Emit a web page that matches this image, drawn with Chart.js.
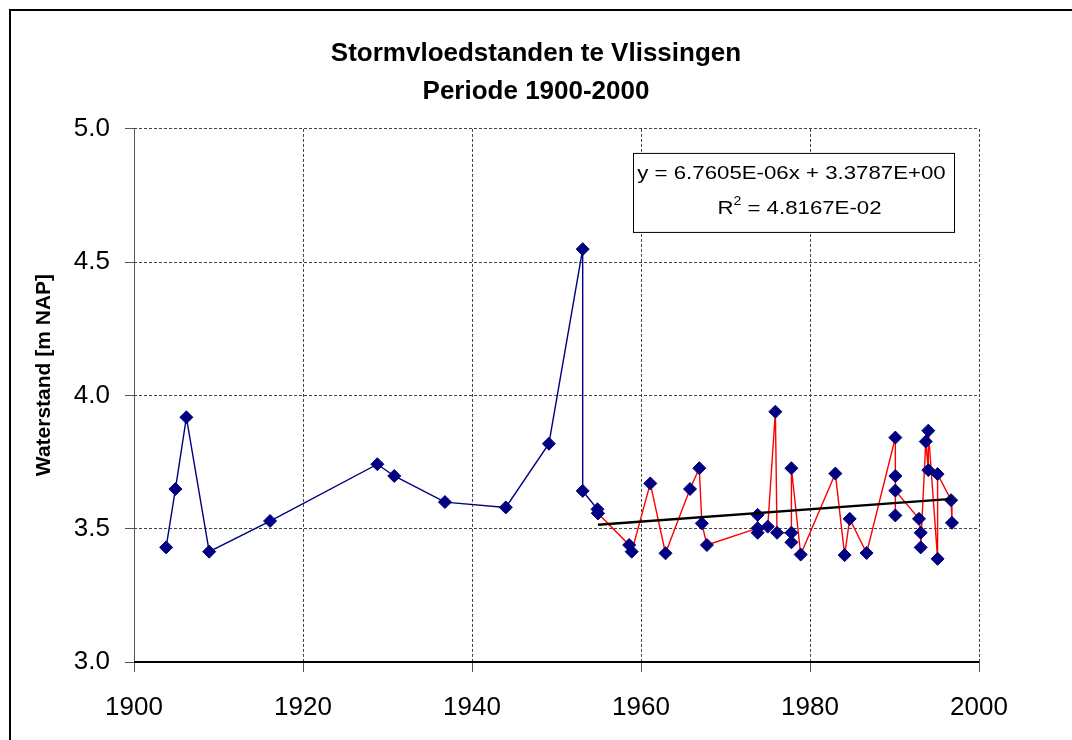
<!DOCTYPE html>
<html><head><meta charset="utf-8">
<script src="https://cdn.jsdelivr.net/npm/chart.js@4/dist/chart.umd.min.js"></script>
<style>html,body{margin:0;padding:0;background:#fff;}#wrap{width:1072px;height:740px;}</style>
</head><body><div id="wrap"><canvas id="c" width="1072" height="740"></canvas></div>
<script>
const titleLines = ['Stormvloedstanden te Vlissingen', 'Periode 1900-2000'];
const yAxisTitle = 'Waterstand [m NAP]';
const xTickStep = 20, xMin = 1900, xMax = 2000;
const yTickStep = 0.5, yMin = 3.0, yMax = 5.0;

const blueYears  = [1903.8, 1904.9, 1906.2, 1908.9, 1916.1, 1928.8, 1930.8, 1936.8, 1944.0, 1949.1, 1953.1, 1953.1, 1954.85, 1954.9];
const blueValues = [3.430, 3.649, 3.918, 3.414, 3.529, 3.742, 3.698, 3.600, 3.580, 3.819, 4.549, 3.642, 3.573, 3.558];

const redYears  = [1954.9, 1958.6, 1958.9, 1961.1, 1962.9, 1965.8, 1966.9, 1967.2, 1967.8, 1973.8, 1973.8, 1973.8, 1975.0, 1975.9, 1976.1, 1977.8, 1977.8, 1977.8, 1978.9, 1983.0, 1984.1, 1984.7, 1986.7, 1990.1, 1990.1, 1990.1, 1990.1, 1992.9, 1993.1, 1993.1, 1993.7, 1994.0, 1994.0, 1995.1, 1995.1, 1996.7, 1996.8];
const redValues = [3.558, 3.439, 3.414, 3.670, 3.408, 3.649, 3.727, 3.520, 3.439, 3.502, 3.552, 3.485, 3.508, 3.939, 3.485, 3.485, 3.449, 3.727, 3.403, 3.707, 3.401, 3.537, 3.409, 3.842, 3.698, 3.550, 3.643, 3.537, 3.485, 3.430, 3.827, 3.720, 3.868, 3.387, 3.705, 3.607, 3.522];

const trendYears  = [1954.9, 1996.8];
const trendValues = [3.515, 3.612];

const equationLine1 = 'y = 6.7605E-06x + 3.3787E+00';
const equationR = 'R';
const equationSup = '2';
const equationLine2 = ' = 4.8167E-02';

const FONT = "'Liberation Sans', Arial, sans-serif";
const pts = (xs, ys) => xs.map((x, i) => ({x: x, y: ys[i]}));

const framePlugin = {
  id: 'frame',
  beforeDraw(chart) {
    const ctx = chart.ctx;
    ctx.save();
    ctx.fillStyle = '#fff';
    ctx.fillRect(0, 0, chart.width, chart.height);
    ctx.strokeStyle = '#000';
    ctx.lineWidth = 2;
    ctx.beginPath();
    ctx.moveTo(10, chart.height + 5);
    ctx.lineTo(10, 10);
    ctx.lineTo(chart.width + 5, 10);
    ctx.stroke();
    ctx.restore();
  },
  beforeDatasetsDraw(chart) {
    const ctx = chart.ctx;
    const a = chart.chartArea;
    ctx.save();
    ctx.setLineDash([]);
    ctx.strokeStyle = '#555';
    ctx.lineWidth = 1;
    ctx.beginPath();
    ctx.moveTo(Math.round(a.left) + 0.5, a.top);
    ctx.lineTo(Math.round(a.left) + 0.5, a.bottom);
    ctx.stroke();
    ctx.strokeStyle = '#000';
    ctx.lineWidth = 2;
    ctx.beginPath();
    ctx.moveTo(a.left, Math.round(a.bottom));
    ctx.lineTo(a.right, Math.round(a.bottom));
    ctx.stroke();
    ctx.restore();
  }
};

const equationPlugin = {
  id: 'equation',
  afterDatasetsDraw(chart) {
    const ctx = chart.ctx;
    const a = chart.chartArea;
    const bx = a.left + 499, by = a.top + 24, bw = 321, bh = 79;
    ctx.save();
    ctx.fillStyle = '#fff';
    ctx.fillRect(bx, by, bw, bh);
    ctx.strokeStyle = '#000';
    ctx.lineWidth = 1;
    ctx.strokeRect(bx + 0.5, by + 0.5, bw, bh);
    const sx = 1.17;
    ctx.fillStyle = '#000';
    ctx.textBaseline = 'alphabetic';
    ctx.font = '19px ' + FONT;
    const cx = bx + bw / 2;
    let w1 = ctx.measureText(equationLine1).width * sx;
    ctx.save();
    ctx.translate(cx - 2 - w1 / 2, by + 26);
    ctx.scale(sx, 1);
    ctx.fillText(equationLine1, 0, 0);
    ctx.restore();
    ctx.font = '19px ' + FONT;
    const wR = ctx.measureText(equationR).width;
    const wV = ctx.measureText(equationLine2).width;
    ctx.font = '12px ' + FONT;
    const wS = ctx.measureText(equationSup).width;
    const w2 = (wR + wS + wV) * sx;
    ctx.save();
    ctx.translate(cx + 6 - w2 / 2, by + 61);
    ctx.scale(sx, 1);
    ctx.font = '19px ' + FONT;
    ctx.fillText(equationR, 0, 0);
    ctx.font = '12px ' + FONT;
    ctx.fillText(equationSup, wR, -9);
    ctx.font = '19px ' + FONT;
    ctx.fillText(equationLine2, wR + wS, 0);
    ctx.restore();
    ctx.restore();
  }
};

const marker = {
  pointStyle: 'rectRot',
  pointRadius: 6.5,
  pointHoverRadius: 6.5,
  pointBackgroundColor: '#000080',
  pointBorderColor: '#000080',
  pointBorderWidth: 1
};

new Chart(document.getElementById('c'), {
  type: 'scatter',
  data: {
    datasets: [
      {
        label: 'Trend',
        data: pts(trendYears, trendValues),
        showLine: true,
        borderColor: '#000',
        borderWidth: 2.5,
        pointRadius: 0,
        pointHoverRadius: 0,
        order: 0
      },
      Object.assign({
        label: '1955-2000',
        data: pts(redYears, redValues),
        showLine: true,
        borderColor: '#ff0000',
        borderWidth: 1.4,
        order: 1
      }, marker),
      Object.assign({
        label: '1900-1955',
        data: pts(blueYears, blueValues),
        showLine: true,
        borderColor: '#000080',
        borderWidth: 1.4,
        order: 2
      }, marker)
    ]
  },
  options: {
    responsive: false,
    animation: false,
    devicePixelRatio: 1,
    layout: { padding: { left: 10, top: 0, right: 10, bottom: 0 } },
    plugins: {
      legend: { display: false },
      tooltip: { enabled: false },
      title: {
        display: true,
        text: titleLines,
        color: '#000',
        font: { family: FONT, size: 26, weight: 'bold', lineHeight: 1.46 },
        padding: { top: 35, bottom: 18 }
      }
    },
    scales: {
      x: {
        type: 'linear',
        min: xMin, max: xMax,
        afterFit(s) { s.height = 78; },
        ticks: {
          stepSize: xTickStep,
          color: '#000',
          padding: 20,
          font: { family: FONT, size: 26 },
          callback: v => String(v)
        },
        grid: {
          color: '#444',
          lineWidth: 1,
          tickLength: 10,
          tickColor: '#555',
          tickWidth: 1,
          tickBorderDash: []
        },
        border: { display: false, dash: [3, 2] }
      },
      y: {
        type: 'linear',
        min: yMin, max: yMax,
        afterFit(s) { s.width = 124; },
        ticks: {
          stepSize: yTickStep,
          color: '#000',
          padding: 15,
          font: { family: FONT, size: 26 },
          callback: v => v.toFixed(1)
        },
        grid: {
          color: '#444',
          lineWidth: 1,
          tickLength: 9,
          tickColor: '#555',
          tickWidth: 1,
          tickBorderDash: []
        },
        border: { display: false, dash: [3, 2] },
        title: {
          display: true,
          text: '       ' + yAxisTitle,
          color: '#000',
          font: { family: FONT, size: 21, weight: 'bold' },
          padding: { top: 22, bottom: 0 }
        }
      },
      yRight: {
        type: 'linear',
        position: 'right',
        min: yMin, max: yMax,
        afterFit(s) { s.width = 83; },
        ticks: { display: false },
        grid: { display: false, drawOnChartArea: false },
        border: { display: false }
      }
    }
  },
  plugins: [framePlugin, equationPlugin]
});
</script>
</body></html>
